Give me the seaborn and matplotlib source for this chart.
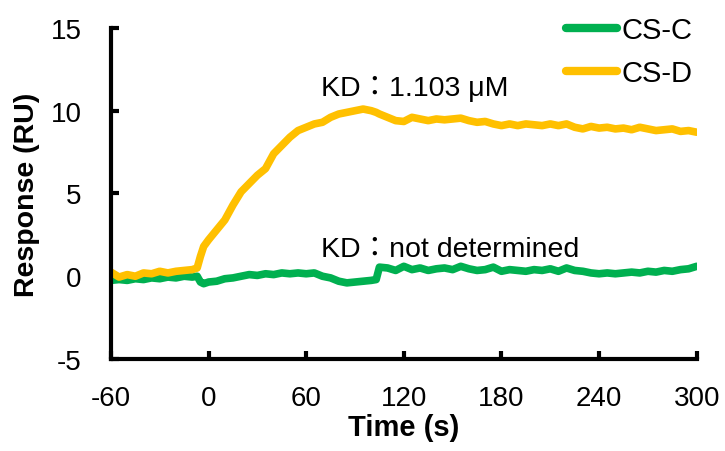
import pandas as pd
import numpy as np

import matplotlib
matplotlib.use("Agg")

import matplotlib.pyplot as plt
import seaborn as sns

# temps (s)
time_s = [-60, -55, -50, -45, -40, -35, -30, -25, -20, -15, -10, -7, -5, -3,
          0, 5, 10, 15, 20, 25, 30, 35, 40, 45, 50, 55, 60, 65, 70, 75, 80,
          85, 90, 95, 100, 103,
          105, 110, 115, 120, 125, 130, 135, 140, 145, 150, 155, 160, 165,
          170, 175, 180, 185, 190, 195, 200, 205, 210, 215, 220, 225, 230,
          235, 240, 245, 250, 255, 260, 265, 270, 275, 280, 285, 290, 295, 300]

cs_c = [-0.25, -0.2, -0.25, -0.15, -0.2, -0.1, -0.15, -0.05, -0.1, 0.0, -0.05, 0.0, -0.35, -0.45,
        -0.35, -0.3, -0.15, -0.1, 0.0, 0.1, 0.05, 0.15, 0.1, 0.2, 0.15, 0.2, 0.15, 0.2, 0.0, -0.1, -0.3,
        -0.4, -0.35, -0.3, -0.25, -0.2,
        0.55, 0.5, 0.35, 0.6, 0.4, 0.5, 0.35, 0.45, 0.5, 0.4, 0.6, 0.45, 0.35,
        0.4, 0.55, 0.3, 0.4, 0.35, 0.3, 0.4, 0.35, 0.45, 0.3, 0.5, 0.35, 0.3,
        0.2, 0.15, 0.2, 0.15, 0.2, 0.25, 0.2, 0.3, 0.25, 0.35, 0.3, 0.4, 0.45, 0.6]

cs_d = [0.25, -0.05, 0.1, 0.0, 0.2, 0.15, 0.3, 0.2, 0.3, 0.35, 0.4, 0.5, 1.2, 1.8,
        2.2, 2.8, 3.4, 4.3, 5.1, 5.6, 6.1, 6.5, 7.4, 7.9, 8.4, 8.8, 9.0, 9.2, 9.3, 9.6, 9.8,
        9.9, 10.0, 10.1, 10.0, 9.9,
        9.8, 9.6, 9.4, 9.35, 9.6, 9.5, 9.4, 9.5, 9.45, 9.5, 9.55, 9.4, 9.3,
        9.35, 9.2, 9.1, 9.2, 9.1, 9.2, 9.15, 9.1, 9.2, 9.1, 9.2, 9.0, 8.9,
        9.05, 8.95, 9.0, 8.9, 8.95, 8.85, 9.0, 8.9, 8.8, 8.85, 8.9, 8.75, 8.8, 8.7]

df = pd.DataFrame({
    'time': time_s * 2,
    'response': cs_c + cs_d,
    'sample': ['CS-C'] * len(time_s) + ['CS-D'] * len(time_s),
})

sns.set_style("ticks")
plt.rcParams['font.family'] = ['Liberation Sans', 'Noto Sans CJK JP', 'DejaVu Sans']
plt.rcParams['axes.unicode_minus'] = False
for k in ['text.color', 'axes.labelcolor', 'xtick.color', 'ytick.color', 'axes.edgecolor']:
    plt.rcParams[k] = 'black'

fig = plt.figure(figsize=(7.25, 4.52), dpi=100)
ax = fig.add_axes([0.153, 0.2035, 0.808, 0.7325])

sns.lineplot(data=df, x='time', y='response', hue='sample',
             palette={'CS-C': '#00B050', 'CS-D': '#FFC000'},
             linewidth=5.5, ax=ax, legend=True)

ax.set_xlim(-60, 300)
ax.set_ylim(-5, 15)
ax.set_xticks([-60, 0, 60, 120, 180, 240, 300])
ax.set_yticks([-5, 0, 5, 10, 15])
sns.despine(ax=ax)
for sp in ['left', 'bottom']:
    ax.spines[sp].set_linewidth(3)
ax.tick_params(direction='in', length=6, width=3, labelsize=20)
ax.tick_params(axis='x', pad=18.5)
ax.tick_params(axis='y', pad=21)

ax.set_xlabel('Time (s)', fontsize=21, fontweight='bold', labelpad=2)
ax.set_ylabel('Response (RU)', fontsize=20.5, fontweight='bold', labelpad=8)

ax.text(69, 10.93, 'KD：1.103 μM', fontsize=20.5, va='baseline')
ax.text(69, 1.25, 'KD：not determined', fontsize=20.5, va='baseline')

leg = ax.legend(loc='upper right', bbox_to_anchor=(1.012, 1.07), frameon=False,
                fontsize=21, handlelength=1.75, handletextpad=0.15, labelspacing=0.5,
                borderaxespad=0)
for line in leg.get_lines():
    line.set_linewidth(6)
    line.set_solid_capstyle('round')

fig.savefig('out.png', dpi=100)
plt.close()
